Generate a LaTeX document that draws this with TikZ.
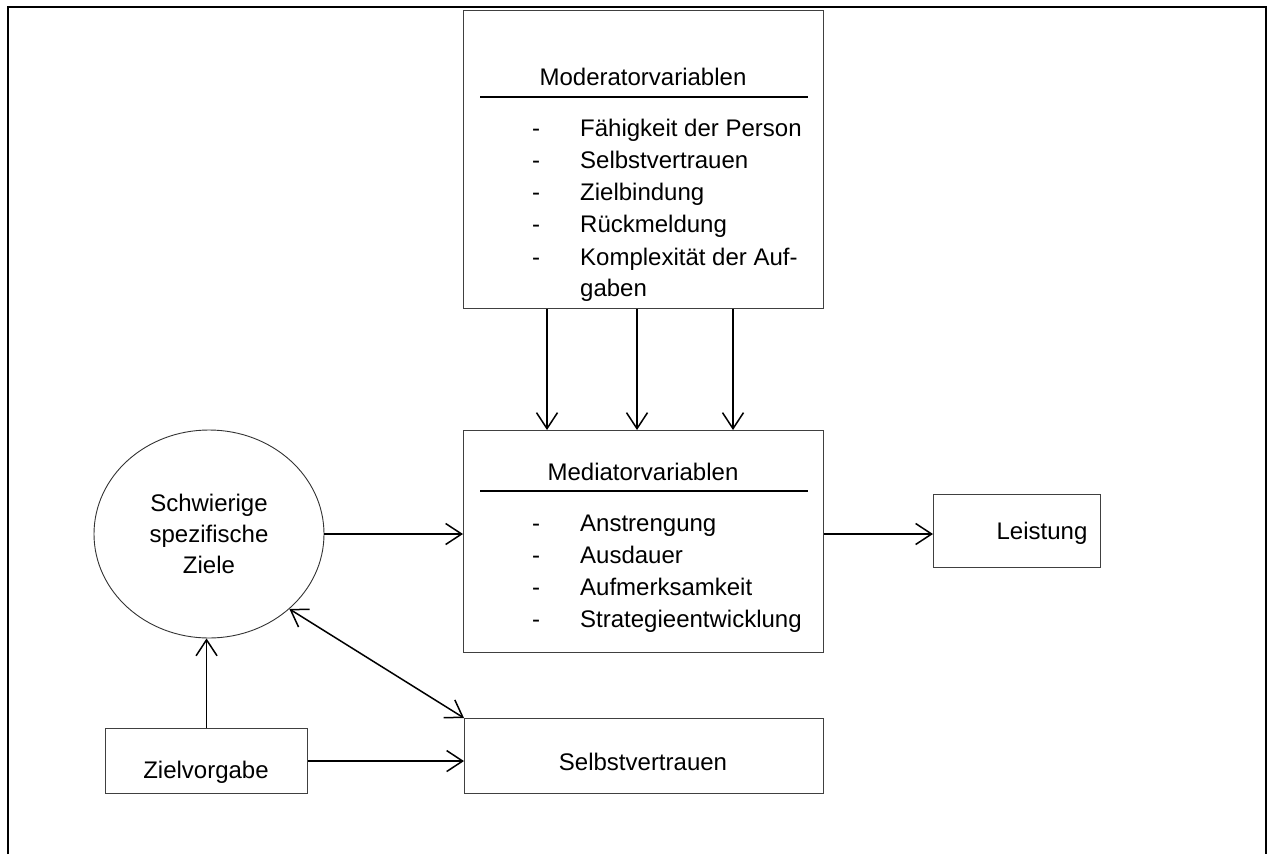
\documentclass[tikz,border=0pt]{standalone}
\usepackage{fontspec}
\setmainfont{Liberation Sans}
\usetikzlibrary{arrows.meta,shapes.geometric}
\begin{document}
\begin{tikzpicture}[x=1pt,y=-1pt,
  box/.style={draw=black!75,line width=1.1pt,rectangle,inner sep=0pt,anchor=north west},
  txt/.style={inner sep=0pt,font=\fontsize{24}{31}\selectfont},
  ttl/.style={txt,anchor=base},
  itm/.style={txt,anchor=base west},
  dsh/.style={txt,anchor=base},
  hline/.style={line width=1.6pt},
  arr/.style={line width=1.5pt,-{Straight Barb[length=16pt,width=21pt,line width=1.5pt]}},
  darr/.style={line width=1.5pt,{Straight Barb[length=16pt,width=21pt,line width=1.5pt]}-{Straight Barb[length=16pt,width=21pt,line width=1.5pt]}},
]
\useasboundingbox (0,0) rectangle (1268,854);
\draw[line width=2.6pt] (8,854) -- (8,7) -- (1266,7) -- (1266,854);

% Moderator box
\node[box,minimum width=360pt,minimum height=298pt] (mod) at (463,10) {};
\node[ttl] (modt) at (643,85) {Moderatorvariablen};
\draw[hline] (480,97) -- (808,97);
\node[dsh] (md1) at (536,136) {-};
\node[itm] (mi1) at (580,136) {Fähigkeit der Person};
\node[dsh] (md2) at (536,168) {-};
\node[itm] (mi2) at (580,168) {Selbstvertrauen};
\node[dsh] (md3) at (536,200) {-};
\node[itm] (mi3) at (580,200) {Zielbindung};
\node[dsh] (md4) at (536,232) {-};
\node[itm] (mi4) at (580,232) {Rückmeldung};
\node[dsh] (md5) at (536,265) {-};
\node[itm] (mi5) at (580,265) {Komplexität der Auf-};
\node[itm] (mi6) at (580,296) {gaben};

% Mediator box
\node[box,minimum width=360pt,minimum height=222pt] (med) at (463,430) {};
\node[ttl] (medt) at (643,480) {Mediatorvariablen};
\draw[hline] (480,491) -- (808,491);
\node[dsh] (ed1) at (536,531) {-};
\node[itm] (ei1) at (580,531) {Anstrengung};
\node[dsh] (ed2) at (536,563) {-};
\node[itm] (ei2) at (580,563) {Ausdauer};
\node[dsh] (ed3) at (536,595) {-};
\node[itm] (ei3) at (580,595) {Aufmerksamkeit};
\node[dsh] (ed4) at (536,627) {-};
\node[itm] (ei4) at (580,627) {Strategieentwicklung};

% Goal ellipse
\node[draw=black!80,line width=0.9pt,ellipse,minimum width=230pt,minimum height=208pt,align=center,txt] (goal) at (209,534) {Schwierige\\spezifische\\Ziele};

% Leistung
\node[box,minimum width=167pt,minimum height=73pt] (lei) at (933,494) {};
\node[ttl] (leit) at (1042,539) {Leistung};

% Zielvorgabe
\node[box,minimum width=202pt,minimum height=65pt] (zv) at (105,728) {};
\node[ttl] (zvt) at (206,778) {Zielvorgabe};

% Selbstvertrauen
\node[box,minimum width=359pt,minimum height=75pt] (sv) at (464,718) {};
\node[ttl] (svt) at (643,770) {Selbstvertrauen};

% Connectors
\draw[arr] (547,0 |- mod.south) -- (547,0 |- med.north);
\draw[arr] (637,0 |- mod.south) -- (637,0 |- med.north);
\draw[arr] (733,0 |- mod.south) -- (733,0 |- med.north);
\draw[arr] (goal.east) -- (goal.east -| med.west);
\draw[arr] (med.east |- goal.east) -- (lei.west |- goal.east);
\draw[arr] (zv.north) -- (zv.north |- goal.south);
\draw[arr] (zv.east) -- (zv.east -| sv.west);
\draw[darr] (goal.-43) -- (sv.north west);
\end{tikzpicture}
\end{document}
